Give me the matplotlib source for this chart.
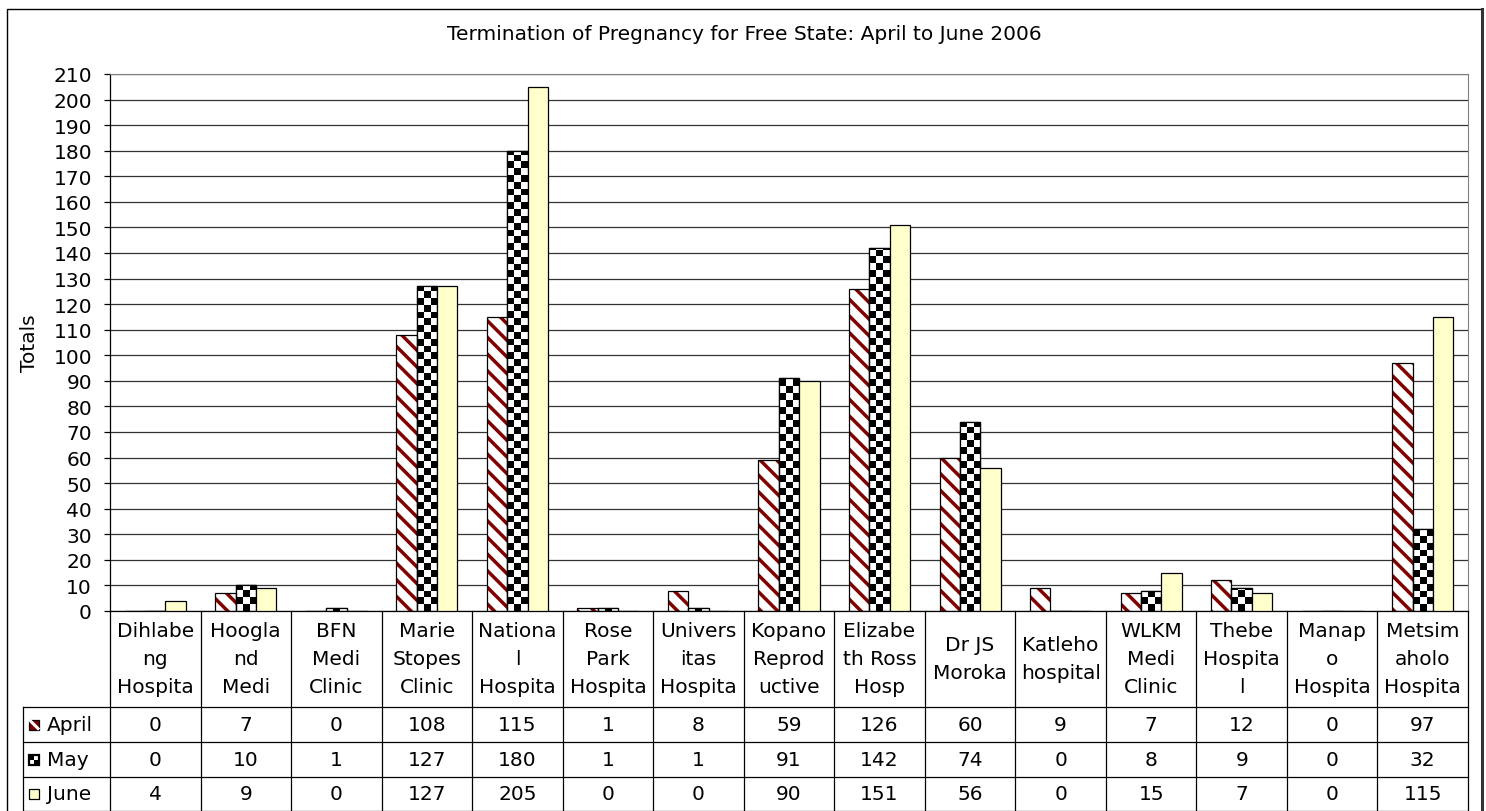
import numpy as np
import matplotlib
matplotlib.use("Agg")
import matplotlib.pyplot as plt
import matplotlib.transforms as mtransforms
from matplotlib.patches import Rectangle
from matplotlib.lines import Line2D

plt.rcParams['font.family'] = ['DejaVu Sans']
plt.rcParams['font.size'] = 14.5
plt.rcParams['hatch.linewidth'] = 2.5

# data
categories = ["Dihlabe\nng\nHospita", "Hoogla\nnd\nMedi", "BFN\nMedi\nClinic",
              "Marie\nStopes\nClinic", "Nationa\nl\nHospita", "Rose\nPark\nHospita",
              "Univers\nitas\nHospita", "Kopano\nReprod\nuctive", "Elizabe\nth Ross\nHosp",
              "Dr JS\nMoroka", "Katleho\nhospital", "WLKM\nMedi\nClinic",
              "Thebe\nHospita\nl", "Manap\no\nHospita", "Metsim\naholo\nHospita"]
series_names = ["April", "May", "June"]
april = [0, 7, 0, 108, 115, 1, 8, 59, 126, 60, 9, 7, 12, 0, 97]
may = [0, 10, 1, 127, 180, 1, 1, 91, 142, 74, 0, 8, 9, 0, 32]
june = [4, 9, 0, 127, 205, 0, 0, 90, 151, 56, 0, 15, 7, 0, 115]

W, H = 1486, 812
FS = 14.5


def fx(px):
    return px / W


def fy(py):
    return 1 - py / H


fig = plt.figure(figsize=(W / 100, H / 100), dpi=100)
ax = fig.add_axes([fx(110), fy(612), fx(1468) - fx(110), fy(75) - fy(612)])

n = len(categories)
x = np.arange(n)
bw = 0.225
red = '#800000'
yellow = '#FFFFCC'

# April: red diagonal stripes
ax.bar(x - bw, april, bw, color='white', edgecolor=red, hatch='\\\\', linewidth=0, zorder=2)
ax.bar(x - bw, april, bw, fill=False, edgecolor='black', linewidth=0.9, zorder=3)

# May: black/white checkerboard
may_bars = ax.bar(x, may, bw, color='white', edgecolor='black', linewidth=0.9, zorder=2)
sq = 2.66
for rect, v in zip(may_bars, may):
    if v <= 0:
        continue
    ny = int(np.ceil(v / sq))
    pattern = (np.add.outer(np.arange(ny), np.arange(3)) % 2).astype(float)
    x0 = rect.get_x()
    im = ax.imshow(pattern, cmap='gray_r', vmin=0, vmax=1, origin='lower',
                   extent=[x0, x0 + bw, 0, ny * sq], aspect='auto',
                   interpolation='nearest', zorder=2.5)
    im.set_clip_path(rect)
ax.bar(x, may, bw, fill=False, edgecolor='black', linewidth=0.9, zorder=3)

# June: light yellow
ax.bar(x + bw, june, bw, color=yellow, edgecolor='black', linewidth=0.9, zorder=3)

ax.set_xlim(-0.5, n - 0.5)
ax.set_ylim(0, 210)
ax.set_yticks(np.arange(0, 211, 10))
ax.set_xticks([])
ax.tick_params(axis='y', direction='out', length=4, width=0.9, pad=9, labelsize=FS)
ax.yaxis.grid(True, color='#333333', linewidth=0.9)
ax.set_axisbelow(True)
ax.spines['top'].set_color('#808080')
ax.spines['right'].set_color('#808080')
ax.spines['left'].set_linewidth(0.9)
ax.spines['bottom'].set_linewidth(0.9)
ax.set_ylabel('Totals', fontsize=FS, labelpad=10)

fig.text(fx(744), fy(35), 'Termination of Pregnancy for Free State: April to June 2006',
         ha='center', va='center', fontsize=FS)

# data table under the axis
tr = mtransforms.blended_transform_factory(ax.transData, fig.transFigure)
row_lines = [708, 743, 778, 812]
for k in range(n + 1):
    fig.add_artist(Line2D([k - 0.5, k - 0.5], [fy(612), fy(812)], transform=tr,
                          color='black', linewidth=0.9))
for py in row_lines:
    fig.add_artist(Line2D([fx(22.7), fx(1468)], [fy(py), fy(py)],
                          transform=fig.transFigure, color='black', linewidth=0.9))
fig.add_artist(Line2D([fx(22.7), fx(22.7)], [fy(708), fy(812)],
                      transform=fig.transFigure, color='black', linewidth=0.9))

for k, label in enumerate(categories):
    fig.text(k, fy(660), label, transform=tr, ha='center', va='center',
             fontsize=FS, linespacing=1.6)

for r, vals in enumerate([april, may, june]):
    yc = fy((row_lines[r] + row_lines[r + 1]) / 2)
    for k, v in enumerate(vals):
        fig.text(k, yc, str(v), transform=tr, ha='center', va='center', fontsize=FS)
    fig.text(fx(47), yc, series_names[r], ha='left', va='center', fontsize=FS)

# legend keys inside the table
ks = 10
for r in range(3):
    cy = (row_lines[r] + row_lines[r + 1]) / 2
    kx, ky = 29, cy - ks / 2
    if r == 0:
        fig.add_artist(Rectangle((fx(kx), fy(ky + ks)), fx(ks), fy(0) - fy(ks),
                                 transform=fig.transFigure, facecolor=red, linewidth=0))
        fig.add_artist(Line2D([fx(kx + 1), fx(kx + ks - 1)], [fy(ky + 1), fy(ky + ks - 1)],
                              transform=fig.transFigure, color='white', linewidth=2.2))
        fig.add_artist(Rectangle((fx(kx), fy(ky + ks)), fx(ks), fy(0) - fy(ks),
                                 transform=fig.transFigure, fill=False,
                                 edgecolor='black', linewidth=0.9))
    elif r == 1:
        h = ks / 2
        for i in range(2):
            for j in range(2):
                c = 'black' if (i + j) % 2 == 0 else 'white'
                fig.add_artist(Rectangle((fx(kx + j * h), fy(ky + (i + 1) * h)), fx(h),
                                         fy(0) - fy(h), transform=fig.transFigure,
                                         facecolor=c, linewidth=0))
        fig.add_artist(Rectangle((fx(kx), fy(ky + ks)), fx(ks), fy(0) - fy(ks),
                                 transform=fig.transFigure, fill=False,
                                 edgecolor='black', linewidth=1.6))
    else:
        fig.add_artist(Rectangle((fx(kx), fy(ky + ks)), fx(ks), fy(0) - fy(ks),
                                 transform=fig.transFigure, facecolor=yellow,
                                 edgecolor='black', linewidth=0.9))

# chart border
fig.add_artist(Rectangle((fx(7), fy(830)), fx(1482) - fx(7), fy(10) - fy(830),
                         transform=fig.transFigure, fill=False, edgecolor='black',
                         linewidth=1.0))
fig.add_artist(Line2D([fx(1482), fx(1482)], [fy(10), fy(812)], transform=fig.transFigure,
                      color='#333333', linewidth=2.2))

fig.savefig('out.png', dpi=100)
